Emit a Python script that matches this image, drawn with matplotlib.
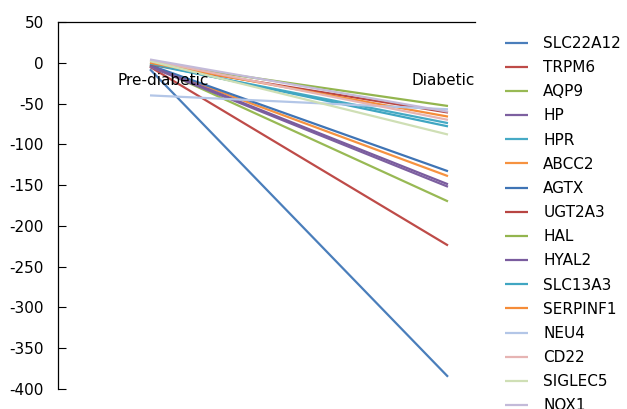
import matplotlib
matplotlib.use("Agg")
import matplotlib.pyplot as plt

plt.rcParams["axes.unicode_minus"] = False

categories = ["Pre-diabetic", "Diabetic"]
genes = ["SLC22A12", "TRPM6", "AQP9", "HP", "HPR", "ABCC2", "AGTX", "UGT2A3",
         "HAL", "HYAL2", "SLC13A3", "SERPINF1", "NEU4", "CD22", "SIGLEC5", "NOX1"]
pre_values = [-8, -5, -3, -5, -2, -4, -3, -2, 0, -4, -1, 0, -40, 3, 2, 4]
diab_values = [-385, -224, -170, -152, -74, -139, -133, -61, -53, -149, -78, -66, -57, -70, -88, -60]
colors = ["#4A7EBB", "#BE4B48", "#98B954", "#7D60A0", "#46AAC5", "#F69240",
          "#3F74B5", "#B84542", "#93B54E", "#7A5C9E", "#40A6C2", "#F58C38",
          "#B3C6E7", "#E6B4B3", "#CFDFB5", "#C3BAD9"]
yticks = list(range(-400, 51, 50))

W, H = 627, 409
fig = plt.figure(figsize=(W / 100, H / 100), dpi=100)
left, right, top, bottom = 58, 475, 22, 389
ax = fig.add_axes([left / W, 1 - bottom / H, (right - left) / W, (bottom - top) / H])

xs = [0, 1]
for g, a, b, c in zip(genes, pre_values, diab_values, colors):
    ax.plot(xs, [a, b], color=c, lw=1.6, label=g, solid_capstyle="butt")

x0px, x1px = 150, 448
scale = x1px - x0px
ax.set_xlim((left - x0px) / scale, (right - x0px) / scale)
ax.set_ylim(-400, 50)
ax.set_yticks(yticks)
ax.set_xticks([])
ax.tick_params(axis="y", direction="in", length=6, width=0.8, labelsize=11, pad=10)
for s in ["right", "bottom"]:
    ax.spines[s].set_visible(False)
for s in ["left", "top"]:
    ax.spines[s].set_linewidth(0.9)

ax.text((163 - x0px) / scale, -22, categories[0], ha="center", va="center", fontsize=11)
ax.text((443 - x0px) / scale, -22, categories[1], ha="center", va="center", fontsize=11)

leg = ax.legend(loc="upper left", bbox_to_anchor=(505 / W, 1 - 36 / H),
                bbox_transform=fig.transFigure, frameon=False, fontsize=11,
                handlelength=1.5, handletextpad=1.0, labelspacing=0.6,
                borderpad=0, borderaxespad=0)

fig.savefig("out.png", dpi=100)
